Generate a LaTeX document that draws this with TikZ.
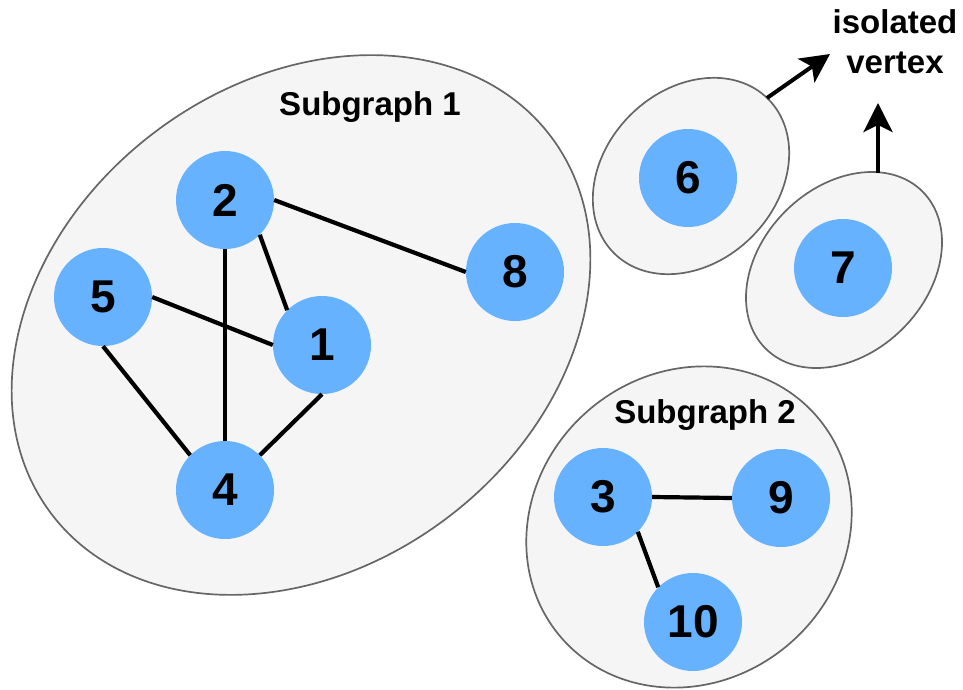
\documentclass[tikz,border=0pt]{standalone}
\usepackage{fontspec}
\setmainfont{Liberation Sans}
\usetikzlibrary{arrows.meta}
\definecolor{nodeblue}{HTML}{66B2FF}
\definecolor{groupfill}{HTML}{F5F5F5}
\definecolor{groupline}{HTML}{666666}
\begin{document}
\begin{tikzpicture}[x=1pt,y=-1pt,
  vertex/.style={circle, fill=nodeblue, minimum size=98pt, inner sep=0pt,
    font=\fontsize{46}{46}\selectfont\bfseries},
  edge/.style={line width=4.2pt, draw=black},
  group/.style={fill=groupfill, draw=groupline, line width=1.7pt},
  grouplabel/.style={font=\fontsize{33}{40}\selectfont\bfseries, align=center},
  pointer/.style={line width=4pt, -{Stealth[length=29pt,width=29pt,inset=7pt]}}
]
\useasboundingbox (0,0) rectangle (963,690);

% component outlines
\draw[group, rotate around={37:(301,325)}] (301,325) ellipse [x radius=313pt, y radius=242pt];
\draw[group, rotate around={45:(691,176)}] (691,176) ellipse [x radius=109pt, y radius=86pt];
\draw[group, rotate around={45:(844,270)}] (844,270) ellipse [x radius=111pt, y radius=83pt];
\draw[group, rotate around={41:(689,527)}] (689,527) ellipse [x radius=169pt, y radius=154pt];

% labels
\node[grouplabel] (lab1) at (370,107) {Subgraph 1};
\node[grouplabel] (lab2) at (705,415) {Subgraph 2};
\node[grouplabel] (iso) at (895,42) {isolated\\vertex};

% vertices
\node[vertex] (n2) at (225,200) {2};
\node[vertex] (n8) at (515,272) {8};
\node[vertex] (n5) at (103,297) {5};
\node[vertex] (n1) at (322,345) {1};
\node[vertex] (n4) at (225,490) {4};
\node[vertex] (n6) at (688,178) {6};
\node[vertex] (n7) at (843,268) {7};
\node[vertex] (n3) at (603,497) {3};
\node[vertex] (n9) at (781,498) {9};
\node[vertex] (n10) at (693,622) {10};

% edges, attached at fixed perimeter points
\draw[edge] (n2.east) -- (n8.west);
\draw[edge] (n2.-45) -- (n1.135);
\draw[edge] (n2.south) -- (n4.north);
\draw[edge] (n5.east) -- (n1.west);
\draw[edge] (n5.south) -- (n4.135);
\draw[edge] (n1.south) -- (n4.45);
\draw[edge] (n3.east) -- (n9.west);
\draw[edge] (n3.-45) -- (n10.135);

% pointers to the label
\coordinate (s6) at (767,98);
\coordinate (t6) at (830,54);
\coordinate (s7) at (878,173);
\coordinate (t7) at (878,103);
\draw[pointer] (s6) -- (t6);
\draw[pointer] (s7) -- (t7);
\end{tikzpicture}
\end{document}
